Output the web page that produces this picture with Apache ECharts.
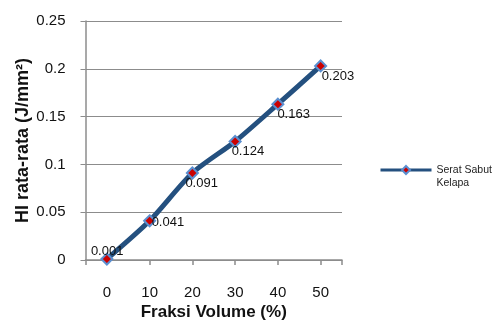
<!DOCTYPE html>
<html>
<head>
<meta charset="utf-8">
<script src="https://cdn.jsdelivr.net/npm/echarts@6/dist/echarts.min.js"></script>
<style>
html,body{margin:0;padding:0;background:#fff;}
#chart{width:492px;height:322px;}
</style>
</head>
<body>
<div id="chart"></div>
<script>
var xValues = [0, 10, 20, 30, 40, 50];
var hiValues = [0.001, 0.041, 0.091, 0.124, 0.163, 0.203];
var labelOffsets = [[-27.5, -8], [-9.5, 2], [-18.5, 10], [-15, 10], [-12, 10], [-10.5, 10]];
var yTicks = [0, 0.05, 0.1, 0.15, 0.2, 0.25];
var seriesName = 'Serat Sabut Kelapa';
var legendText = ' \nSerat Sabut\nKelapa';

var chart = echarts.init(document.getElementById('chart'));
var font = '"Liberation Sans", Arial, sans-serif';
var data = xValues.map(function (x, i) {
  return {
    value: [x, hiValues[i]],
    label: { offset: labelOffsets[i] }
  };
});
chart.setOption({
  animation: false,
  backgroundColor: '#fff',
  textStyle: { fontFamily: font },
  grid: { left: 85.5, right: 150, top: 21, bottom: 62, containLabel: false, outerBoundsMode: 'none' },
  legend: {
    left: 379,
    top: 150.5,
    padding: 0,
    itemWidth: 51,
    itemHeight: 10,
    itemGap: 2,
    data: [seriesName],
    formatter: function () { return legendText; },
    textStyle: { fontFamily: font, fontSize: 10.5, color: '#222', lineHeight: 13 },
    lineStyle: { width: 3 }
  },
  xAxis: {
    type: 'value',
    min: -5,
    max: 55,
    name: 'Fraksi Volume (%)',
    nameLocation: 'middle',
    nameGap: 44,
    nameMoveOverlap: false,
    nameTextStyle: { fontFamily: font, fontSize: 17, fontWeight: 'bold', color: '#111' },
    axisLine: { show: true, onZero: false, lineStyle: { color: '#8c8c8c', width: 1.5 } },
    axisTick: { show: true, length: 5, customValues: [-5, 0, 10, 20, 30, 40, 50, 55], lineStyle: { color: '#8c8c8c', width: 1.5 } },
    axisLabel: { customValues: xValues, margin: 25, fontSize: 15, color: '#111', fontFamily: font },
    splitLine: { show: false }
  },
  yAxis: {
    type: 'value',
    min: 0,
    max: 0.25,
    interval: 0.05,
    name: 'HI rata-rata (J/mm²)',
    nameLocation: 'middle',
    nameGap: 53,
    nameMoveOverlap: false,
    nameTextStyle: { fontFamily: font, fontSize: 18, fontWeight: 'bold', color: '#111' },
    axisLine: { show: true, onZero: false, lineStyle: { color: '#8c8c8c', width: 1.5 } },
    axisTick: { show: true, length: 5, lineStyle: { color: '#8c8c8c', width: 1 } },
    axisLabel: {
      margin: 20, fontSize: 15, color: '#111', fontFamily: font,
      formatter: function (v) { return String(+v.toFixed(2)); }
    },
    splitLine: { show: true, lineStyle: { color: '#8c8c8c', width: 1.2 } }
  },
  series: [{
    name: seriesName,
    type: 'line',
    data: data,
    smooth: 0.25,
    symbol: 'diamond',
    symbolSize: 11,
    lineStyle: { color: '#24507f', width: 5 },
    itemStyle: { color: '#cc0000', borderColor: '#5b8fd0', borderWidth: 2 },
    label: {
      show: true,
      position: 'right',
      fontSize: 13,
      color: '#111',
      fontFamily: font,
      formatter: function (p) { return p.value[1].toFixed(3); }
    },
    z: 3
  }]
});
</script>
</body>
</html>
